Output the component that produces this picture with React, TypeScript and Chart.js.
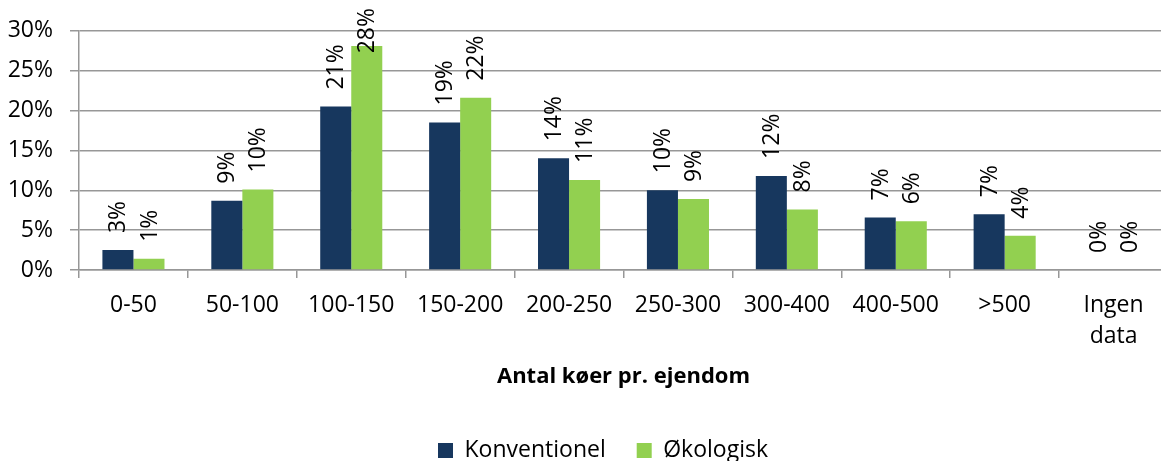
import React, { useEffect, useRef } from "react";
import { Chart, registerables } from "chart.js";

Chart.register(...registerables);

const categories: (string | string[])[] = [
  "0-50",
  "50-100",
  "100-150",
  "150-200",
  "200-250",
  "250-300",
  "300-400",
  "400-500",
  ">500",
  ["Ingen", "data"],
];
const konventionel = [2.5, 8.7, 20.5, 18.5, 14.0, 10.0, 11.8, 6.6, 7.0, 0];
const okologisk = [1.4, 10.1, 28.1, 21.6, 11.3, 8.9, 7.6, 6.1, 4.3, 0];
const yTicks = [0, 5, 10, 15, 20, 25, 30];
const xTitle = "Antal køer pr. ejendom";
const seriesNames = ["Konventionel", "Økologisk"];
const seriesColors = ["#17375E", "#92D050"];

const FONT = "'Open Sans', 'Noto Sans', sans-serif";
const GRID = "#979797";

const barLabels = {
  id: "barLabels",
  afterDatasetsDraw(chart: any) {
    const ctx = chart.ctx;
    ctx.save();
    ctx.font = `23px ${FONT}`;
    ctx.fillStyle = "#000";
    ctx.textAlign = "left";
    ctx.textBaseline = "middle";
    chart.data.datasets.forEach((ds: any, di: number) => {
      const meta = chart.getDatasetMeta(di);
      meta.data.forEach((bar: any, i: number) => {
        const v = ds.data[i];
        const txt = Math.round(v) + "%";
        const w = ctx.measureText(txt).width;
        let start = bar.y - 17;
        if (start - w < 8) start = 8 + w;
        ctx.save();
        ctx.translate(bar.x + 1, start);
        ctx.rotate(-Math.PI / 2);
        ctx.fillText(txt, 0, 0);
        ctx.restore();
      });
    });
    ctx.restore();
  },
};

const legendShift = {
  id: "legendShift",
  afterLayout(chart: any) {
    if (chart.legend) chart.legend.left += 38;
  },
};

export default function App() {
  const ref = useRef<HTMLCanvasElement>(null);
  useEffect(() => {
    document.body.style.margin = "0";
    const chart = new Chart(ref.current!, {
      type: "bar",
      data: {
        labels: categories,
        datasets: [
          {
            label: seriesNames[0],
            data: konventionel,
            backgroundColor: seriesColors[0],
            barPercentage: 1,
            categoryPercentage: 0.57,
          },
          {
            label: seriesNames[1],
            data: okologisk,
            backgroundColor: seriesColors[1],
            barPercentage: 1,
            categoryPercentage: 0.57,
          },
        ],
      },
      options: {
        responsive: false,
        animation: false,
        layout: { padding: { top: 30, left: 0, right: 0, bottom: 0 } },
        plugins: {
          legend: {
            position: "bottom",
            labels: {
              boxWidth: 15,
              boxHeight: 15,
              padding: 31,
              color: "#000",
              font: { family: FONT, size: 23 },
            },
          },
          tooltip: { enabled: false },
        },
        scales: {
          x: {
            offset: true,
            grid: {
              display: true,
              drawOnChartArea: false,
              drawTicks: true,
              tickLength: 8,
              offset: true,
              color: GRID,
              lineWidth: 1.5,
            },
            border: { display: true, color: GRID, width: 1.5 },
            ticks: {
              color: "#000",
              padding: 12,
              maxRotation: 0,
              autoSkip: false,
              font: { family: FONT, size: 23, lineHeight: 1.35 },
            },
            title: {
              display: true,
              text: xTitle,
              color: "#000",
              padding: { top: 0, bottom: 18 },
              font: { family: FONT, size: 22, weight: "bold", lineHeight: 1.2 },
            },
            afterFit(scale: any) {
              scale.height = 138;
            },
          },
          y: {
            min: 0,
            max: 30,
            afterBuildTicks(scale: any) {
              scale.ticks = yTicks.map((v) => ({ value: v }));
            },
            grid: {
              color: GRID,
              lineWidth: 1.5,
              tickLength: 9,
              drawTicks: true,
            },
            border: { display: true, color: GRID, width: 1.5 },
            ticks: {
              color: "#000",
              padding: 17,
              font: { family: FONT, size: 23 },
              callback: (v: any) => v + "%",
            },
            afterFit(scale: any) {
              scale.width = 79;
            },
          },
        },
      },
      plugins: [barLabels, legendShift],
    });
    return () => chart.destroy();
  }, []);
  return (
    <div style={{ width: 1161, height: 461, overflow: "hidden", background: "#fff" }}>
      <canvas ref={ref} width={1168} height={472} style={{ display: "block" }} />
    </div>
  );
}
